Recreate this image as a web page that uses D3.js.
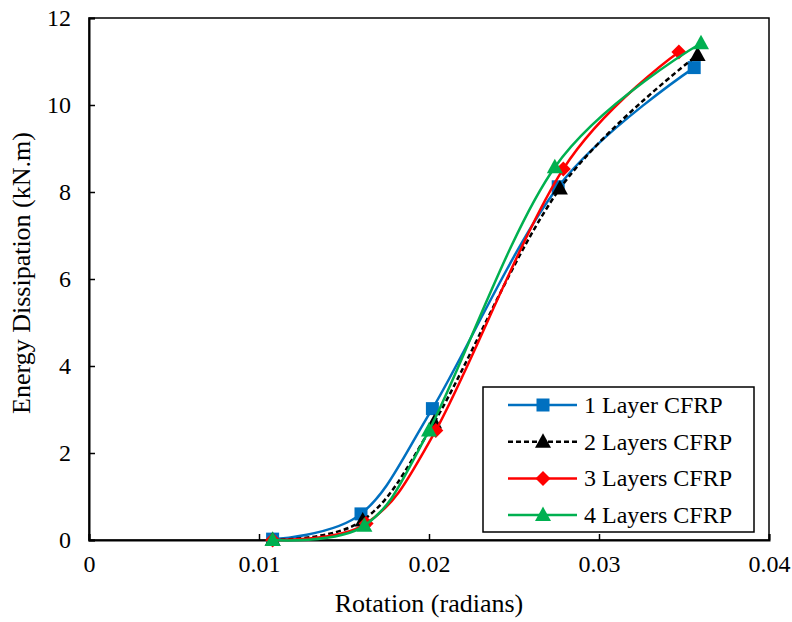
<!DOCTYPE html>
<html>
<head>
<meta charset="utf-8">
<script src="https://cdn.jsdelivr.net/npm/d3@7"></script>
<style>
  html, body { margin: 0; padding: 0; background: #fff; }
  svg text { font-family: "Liberation Serif", "Times New Roman", Times, serif; }
</style>
</head>
<body>
<svg id="chart" width="792" height="622"></svg>
<script>
// Rotation (radians) and energy dissipated (kN.m) for each CFRP wrapping scheme
const seriesNames = ["1 Layer CFRP", "2 Layers CFRP", "3 Layers CFRP", "4 Layers CFRP"];
const rot1 = [0.0108, 0.0160, 0.0202, 0.0276, 0.0356];
const ene1 = [0.02, 0.60, 3.02, 8.12, 10.86];
const rot2 = [0.0108, 0.0161, 0.0203, 0.0277, 0.0358];
const ene2 = [0.0, 0.45, 2.70, 8.08, 11.15];
const rot3 = [0.0108, 0.0163, 0.0204, 0.0279, 0.0347];
const ene3 = [0.0, 0.38, 2.52, 8.53, 11.22];
const rot4 = [0.0108, 0.0162, 0.0200, 0.0274, 0.0360];
const ene4 = [0.0, 0.33, 2.52, 8.57, 11.42];
const xTicks = [0, 0.01, 0.02, 0.03, 0.04];
const yTicks = [0, 2, 4, 6, 8, 10, 12];

const colors = ["#0070C0", "#000000", "#FF0000", "#00B050"];
const dashes = [null, "5,3", null, null];
const markers = ["square", "triangle", "diamond", "triangle"];
const FONT = "'Liberation Serif', 'Times New Roman', Times, serif";

const series = [[rot1, ene1], [rot2, ene2], [rot3, ene3], [rot4, ene4]].map((s, i) => ({
  name: seriesNames[i],
  color: colors[i],
  dash: dashes[i],
  marker: markers[i],
  points: s[0].map((r, j) => ({ x: r, y: s[1][j] }))
}));

const svg = d3.select("#chart");
const margin = { left: 89, right: 23, top: 18, bottom: 82 };
const W = 792, H = 622;

const x = d3.scaleLinear().domain([0, 0.04]).range([margin.left, W - margin.right]);
const y = d3.scaleLinear().domain([0, 12]).range([H - margin.bottom, margin.top]);

// plot frame
svg.append("rect")
  .attr("x", x(0)).attr("y", y(12))
  .attr("width", x(0.04) - x(0)).attr("height", y(0) - y(12))
  .attr("fill", "none").attr("stroke", "#000").attr("stroke-width", 1.5);

// axes with inward ticks
const xAxis = svg.append("g")
  .attr("transform", `translate(0,${y(0)})`)
  .call(d3.axisBottom(x).tickValues(xTicks).tickSize(-6).tickPadding(15)
    .tickFormat(d => d === 0 ? "0" : d3.format(".2f")(d).replace(/0$/, "")));
const yAxis = svg.append("g")
  .attr("transform", `translate(${x(0)},0)`)
  .call(d3.axisLeft(y).tickValues(yTicks).tickSize(-6).tickPadding(18).tickFormat(d3.format("d")));

[xAxis, yAxis].forEach(g => {
  g.attr("font-family", FONT).attr("font-size", 24);
  g.select(".domain").attr("stroke", "#000").attr("stroke-width", 2);
  g.selectAll(".tick line").attr("stroke", "#000").attr("stroke-width", 1.5);
  g.selectAll(".tick text").attr("fill", "#000");
});

// axis titles
svg.append("text")
  .attr("x", (x(0) + x(0.04)) / 2).attr("y", 612)
  .attr("text-anchor", "middle")
  .attr("font-family", FONT).attr("font-size", 26)
  .text("Rotation (radians)");
svg.append("text")
  .attr("transform", `translate(30,${(y(0) + y(12)) / 2 - 6}) rotate(-90)`)
  .attr("text-anchor", "middle")
  .attr("font-family", FONT).attr("font-size", 26)
  .text("Energy Dissipation (kN.m)");

// smoothed lines
const line = d3.line()
  .x(d => x(d.x)).y(d => y(d.y))
  .curve(d3.curveCardinal.tension(0));

function drawMarker(g, type, cx, cy, color) {
  if (type === "square") {
    g.append("rect").attr("x", cx - 6.5).attr("y", cy - 6.5)
      .attr("width", 13).attr("height", 13).attr("fill", color);
  } else if (type === "triangle") {
    g.append("path")
      .attr("d", `M${cx},${cy - 8.5}L${cx + 8},${cy + 6}L${cx - 8},${cy + 6}Z`)
      .attr("fill", color);
  } else if (type === "diamond") {
    g.append("path")
      .attr("d", `M${cx},${cy - 7.5}L${cx + 7.5},${cy}L${cx},${cy + 7.5}L${cx - 7.5},${cy}Z`)
      .attr("fill", color);
  }
}

series.forEach(s => {
  const g = svg.append("g");
  g.append("path")
    .attr("d", line(s.points))
    .attr("fill", "none")
    .attr("stroke", s.color)
    .attr("stroke-width", 2.5)
    .attr("stroke-dasharray", s.dash);
  s.points.forEach(p => drawMarker(g, s.marker, x(p.x), y(p.y), s.color));
});

// legend
const lg = svg.append("g");
lg.append("rect")
  .attr("x", 483).attr("y", 387).attr("width", 271).attr("height", 145)
  .attr("fill", "#fff").attr("stroke", "#000").attr("stroke-width", 1.5);
series.forEach((s, i) => {
  const ry = 405 + i * 36.7;
  lg.append("line")
    .attr("x1", 508).attr("x2", 577).attr("y1", ry).attr("y2", ry)
    .attr("stroke", s.color).attr("stroke-width", 2.5)
    .attr("stroke-dasharray", s.dash);
  drawMarker(lg, s.marker, 543, ry, s.color);
  lg.append("text")
    .attr("x", 584).attr("y", ry + 8)
    .attr("font-family", FONT).attr("font-size", 24)
    .text(s.name);
});
</script>
</body>
</html>
